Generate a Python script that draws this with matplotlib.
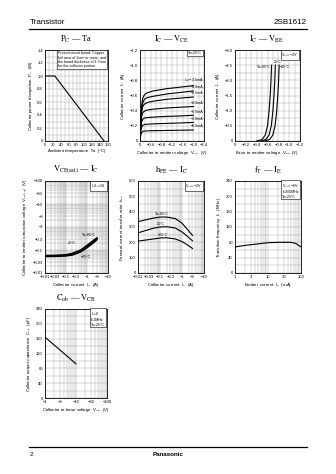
import matplotlib
matplotlib.use("Agg")
import matplotlib.pyplot as plt
from matplotlib.ticker import FixedLocator, NullFormatter, MultipleLocator, LogLocator
from matplotlib.lines import Line2D

plt.rcParams['font.family'] = ['Liberation Sans', 'DejaVu Sans']
plt.rcParams['mathtext.fontset'] = 'stix'

# ---------------- data ----------------
# PC - Ta
ta = [0, 25, 150]
pc = [1.0, 1.0, 0.0]

# IC - VCE (Ta = 25 degC)
vce = [0, -0.03, -0.06, -0.1, -0.15, -0.2, -0.3, -0.5, -1.0, -1.5, -2.0]
ib_labels = ["I$_B$=−3.5mA", "−3.0mA", "−2.5mA", "−2.0mA", "−1.5mA", "−1.0mA", "−0.5mA"]
ic_ib35 = [0, -0.28, -0.46, -0.56, -0.60, -0.62, -0.64, -0.66, -0.69, -0.71, -0.73]
ic_ib30 = [0, -0.26, -0.42, -0.50, -0.54, -0.56, -0.575, -0.59, -0.62, -0.64, -0.66]
ic_ib25 = [0, -0.24, -0.38, -0.45, -0.48, -0.495, -0.51, -0.525, -0.55, -0.565, -0.58]
ic_ib20 = [0, -0.21, -0.32, -0.37, -0.39, -0.40, -0.41, -0.42, -0.435, -0.445, -0.455]
ic_ib15 = [0, -0.17, -0.25, -0.285, -0.30, -0.305, -0.31, -0.315, -0.325, -0.33, -0.34]
ic_ib10 = [0, -0.13, -0.18, -0.205, -0.215, -0.22, -0.222, -0.226, -0.232, -0.238, -0.245]
ic_ib05 = [0, -0.08, -0.11, -0.125, -0.13, -0.132, -0.134, -0.136, -0.139, -0.142, -0.145]

# IC - VBE (VCE = -2 V)
ic_vbe = [0, -0.05, -0.2, -0.5, -1.0, -1.5, -2.0, -2.5]
vbe_85 = [-0.40, -0.50, -0.56, -0.60, -0.63, -0.65, -0.665, -0.675]
vbe_25 = [-0.48, -0.57, -0.63, -0.67, -0.70, -0.72, -0.735, -0.745]
vbe_m25 = [-0.55, -0.64, -0.70, -0.74, -0.77, -0.79, -0.805, -0.815]

# VCE(sat) - IC (IC/IB = 10)
ic_sat = [-0.01, -0.02, -0.05, -0.1, -0.2, -0.5, -1, -2, -3]
vsat_85 = [-0.058, -0.058, -0.06, -0.063, -0.072, -0.1, -0.16, -0.26, -0.34]
vsat_25 = [-0.055, -0.055, -0.056, -0.058, -0.065, -0.09, -0.14, -0.23, -0.31]
vsat_m25 = [-0.052, -0.052, -0.053, -0.055, -0.06, -0.082, -0.125, -0.2, -0.28]

# hFE - IC (VCE = -2 V)
ic_hfe = [-0.01, -0.02, -0.05, -0.1, -0.2, -0.5, -1, -2, -3]
hfe_85 = [335, 345, 358, 365, 365, 355, 325, 275, 245]
hfe_25 = [262, 275, 292, 300, 302, 293, 268, 232, 210]
hfe_m25 = [208, 214, 222, 228, 230, 222, 205, 178, 160]

# fT - IE
ie = [1, 2, 5, 10, 20, 50, 70, 100]
ft = [68, 72, 76, 79, 80, 80, 77, 68]

# Cob - VCB
vcb = [-1, -3, -10]
cob = [164, 130, 92]

# ---------------- figure ----------------
W, H = 336, 474
fig = plt.figure(figsize=(W / 100, H / 100), dpi=100)

TICK = 3.0
LAB = 3.2
GRID = dict(color='#9a9a9a', lw=0.3)
LW = 0.8


def axes_px(x0, y0, x1, y1):
    return fig.add_axes([x0 / W, 1 - y1 / H, (x1 - x0) / W, (y1 - y0) / H])


def style(ax):
    for s in ax.spines.values():
        s.set_linewidth(0.6)
    ax.tick_params(which='both', direction='in', length=0, labelsize=TICK, pad=1.5)
    ax.grid(True, which='both', **GRID)
    ax.set_axisbelow(True)


def log_minor(axis):
    axis.set_minor_locator(LogLocator(subs=range(2, 10), numticks=20))
    axis.set_minor_formatter(NullFormatter())


def title(cx, cy, s):
    fig.text(cx / W, 1 - cy / H, s, ha='center', va='center', fontsize=6,
             family='Liberation Serif')


def boxtext(ax, x, y, s, ha='right', va='top'):
    ax.text(x, y, s, transform=ax.transAxes, ha=ha, va=va, fontsize=2.6,
            linespacing=1.1, multialignment='left',
            bbox=dict(boxstyle='square,pad=0.25', fc='white', ec='black', lw=0.4))


def note(ax, x, y, s, ha='left'):
    ax.text(x, y, s, ha=ha, va='center', fontsize=2.6)


def xlabel(ax, s):
    ax.set_xlabel(s, fontsize=LAB, labelpad=1.5)


def ylabel(ax, s):
    ax.set_ylabel(s, fontsize=LAB, labelpad=2)


# ---- PC - Ta ----
ax = axes_px(45, 50, 108, 141)
style(ax)
ax.set_xlim(0, 160)
ax.set_ylim(0, 1.4)
ax.xaxis.set_major_locator(MultipleLocator(20))
ax.xaxis.set_minor_locator(MultipleLocator(10))
ax.yaxis.set_major_locator(MultipleLocator(0.2))
ax.yaxis.set_minor_locator(MultipleLocator(0.1))
ax.set_yticklabels(['0' if abs(v) < 1e-9 else f'{v:.1f}' for v in ax.get_yticks()])
ax.plot(ta, pc, color='black', lw=LW)
boxtext(ax, 0.97, 0.985, "Printed circuit board: Copper\nfoil area of 1cm² or more, and\n"
        "the board thickness of 1.7mm\nfor the collector portion.")
xlabel(ax, "Ambient temperature  Ta  (°C)")
ylabel(ax, "Collector power dissipation  P$_C$  (W)")
title(76, 39, r"$\mathrm{P_C}$ — Ta")

# ---- IC - VCE ----
ax = axes_px(140, 50, 204, 141)
style(ax)
ax.set_xlim(0, -2.4)
ax.set_ylim(0, -1.2)
ax.xaxis.set_major_locator(FixedLocator([0, -0.4, -0.8, -1.2, -1.6, -2.0, -2.4]))
ax.xaxis.set_minor_locator(MultipleLocator(0.2))
ax.yaxis.set_major_locator(FixedLocator([0, -0.2, -0.4, -0.6, -0.8, -1.0, -1.2]))
ax.yaxis.set_minor_locator(MultipleLocator(0.1))
ax.set_xticklabels(['0', '−0.4', '−0.8', '−1.2', '−1.6', '−2.0', '−2.4'])
ax.set_yticklabels(['0', '−0.2', '−0.4', '−0.6', '−0.8', '−1.0', '−1.2'])
curves = [ic_ib35, ic_ib30, ic_ib25, ic_ib20, ic_ib15, ic_ib10, ic_ib05]
for lab, ic in zip(ib_labels, curves):
    ax.plot(vce, ic, color='black', lw=LW)
    ax.text(-2.38, ic[-1] - 0.02, lab, ha='right', va='bottom', fontsize=2.6)
boxtext(ax, 0.97, 0.985, "Ta=25°C")
xlabel(ax, "Collector to emitter voltage  V$_{CE}$  (V)")
ylabel(ax, "Collector current  I$_C$  (A)")
title(172, 39, r"$\mathrm{I_C}$ — $\mathrm{V_{CE}}$")

# ---- IC - VBE ----
ax = axes_px(235, 50, 300, 141)
style(ax)
ax.set_xlim(0, -1.2)
ax.set_ylim(0, -3.0)
ax.xaxis.set_major_locator(FixedLocator([0, -0.2, -0.4, -0.6, -0.8, -1.0, -1.2]))
ax.xaxis.set_minor_locator(MultipleLocator(0.1))
ax.yaxis.set_major_locator(FixedLocator([0, -0.5, -1.0, -1.5, -2.0, -2.5, -3.0]))
ax.yaxis.set_minor_locator(MultipleLocator(0.25))
ax.set_xticklabels(['0', '−0.2', '−0.4', '−0.6', '−0.8', '−1.0', '−1.2'])
ax.set_yticklabels(['0', '−0.5', '−1.0', '−1.5', '−2.0', '−2.5', '−3.0'])
ax.plot(vbe_85, ic_vbe, color='black', lw=LW)
ax.plot(vbe_25, ic_vbe, color='black', lw=LW)
ax.plot(vbe_m25, ic_vbe, color='black', lw=LW)
note(ax, vbe_85[-1] + 0.01, -2.45, "Ta=85°C", ha='right')
note(ax, vbe_25[-1] + 0.03, -2.62, "25°C", ha='left')
note(ax, vbe_m25[-1] - 0.01, -2.45, "−25°C", ha='left')
boxtext(ax, 0.97, 0.985, "V$_{CE}$=−2V")
xlabel(ax, "Base to emitter voltage  V$_{BE}$  (V)")
ylabel(ax, "Collector current  I$_C$  (A)")
title(267, 39, r"$\mathrm{I_C}$ — $\mathrm{V_{BE}}$")

# ---- VCE(sat) - IC (log axes drawn on magnitudes, labelled negative) ----
xt = [0.01, 0.03, 0.1, 0.3, 1, 3, 10]
xt_lab = ['−0.01', '−0.03', '−0.1', '−0.3', '−1', '−3', '−10']
ax = axes_px(45, 181, 108, 273)
style(ax)
ax.set_xscale('log')
ax.set_yscale('log')
ax.set_xlim(0.01, 10)
ax.set_ylim(0.01, 100)
yt = [0.01, 0.03, 0.1, 0.3, 1, 3, 10, 30, 100]
ax.xaxis.set_major_locator(FixedLocator(xt))
log_minor(ax.xaxis)
ax.set_xticklabels(xt_lab)
ax.yaxis.set_major_locator(FixedLocator(yt))
log_minor(ax.yaxis)
ax.set_yticklabels(['−0.01', '−0.03', '−0.1', '−0.3', '−1', '−3', '−10', '−30', '−100'])
for v in (vsat_85, vsat_25, vsat_m25):
    ax.plot([-c for c in ic_sat], [-x for x in v], color='black', lw=1.0)
note(ax, 0.6, 0.45, "Ta=85°C")
note(ax, 0.12, 0.2, "25°C")
note(ax, 0.5, 0.05, "−25°C")
boxtext(ax, 0.97, 0.985, "I$_C$/I$_B$=10")
xlabel(ax, "Collector current  I$_C$  (A)")
ylabel(ax, "Collector to emitter saturation voltage  V$_{CE(sat)}$  (V)")
title(76, 170, r"$\mathrm{V_{CE(sat)}}$ — $\mathrm{I_C}$")

# ---- hFE - IC ----
ax = axes_px(138, 181, 204, 273)
style(ax)
ax.set_xscale('log')
ax.set_xlim(0.01, 10)
ax.set_ylim(0, 600)
ax.xaxis.set_major_locator(FixedLocator(xt))
log_minor(ax.xaxis)
ax.set_xticklabels(xt_lab)
ax.yaxis.set_major_locator(MultipleLocator(100))
ax.yaxis.set_minor_locator(MultipleLocator(50))
absic = [-c for c in ic_hfe]
ax.plot(absic, hfe_85, color='black', lw=LW)
ax.plot(absic, hfe_25, color='black', lw=LW)
ax.plot(absic, hfe_m25, color='black', lw=LW)
note(ax, 0.06, 385, "Ta=85°C")
note(ax, 0.07, 318, "25°C")
note(ax, 0.08, 245, "−25°C")
boxtext(ax, 0.97, 0.985, "V$_{CE}$=−2V")
xlabel(ax, "Collector current  I$_C$  (A)")
ylabel(ax, "Forward current transfer ratio  h$_{FE}$")
title(171, 170, r"$\mathrm{h_{FE}}$ — $\mathrm{I_C}$")

# ---- fT - IE ----
ax = axes_px(235, 181, 301, 273)
style(ax)
ax.set_xscale('log')
ax.set_xlim(1, 100)
ax.set_ylim(0, 240)
ax.xaxis.set_major_locator(FixedLocator([1, 3, 10, 30, 100]))
log_minor(ax.xaxis)
ax.set_xticklabels(['1', '3', '10', '30', '100'])
ax.yaxis.set_major_locator(MultipleLocator(40))
ax.yaxis.set_minor_locator(MultipleLocator(20))
ax.plot(ie, ft, color='black', lw=LW)
boxtext(ax, 0.97, 0.985, "V$_{CB}$=−6V\nf=200MHz\nTa=25°C")
xlabel(ax, "Emitter current  I$_E$  (mA)")
ylabel(ax, "Transition frequency  f$_T$  (MHz)")
title(268, 170, r"$\mathrm{f_T}$ — $\mathrm{I_E}$")

# ---- Cob - VCB ----
ax = axes_px(45, 309, 107, 398)
style(ax)
ax.set_xscale('log')
ax.set_xlim(1, 100)
ax.set_ylim(0, 240)
ax.xaxis.set_major_locator(FixedLocator([1, 3, 10, 30, 100]))
log_minor(ax.xaxis)
ax.set_xticklabels(['−1', '−3', '−10', '−30', '−100'])
ax.yaxis.set_major_locator(MultipleLocator(40))
ax.yaxis.set_minor_locator(MultipleLocator(20))
ax.plot([-v for v in vcb], cob, color='black', lw=LW)
boxtext(ax, 0.97, 0.985, "I$_E$=0\nf=1MHz\nTa=25°C")
xlabel(ax, "Collector to base voltage  V$_{CB}$  (V)")
ylabel(ax, "Collector output capacitance  C$_{ob}$  (pF)")
title(76, 298, r"$\mathrm{C_{ob}}$ — $\mathrm{V_{CB}}$")

# ---------------- page header / footer ----------------
fig.text(30 / W, 1 - 23 / H, "Transistor", ha='left', va='center', fontsize=5.8)
fig.text(307 / W, 1 - 23 / H, "2SB1612", ha='right', va='center', fontsize=5.8)
fig.add_artist(Line2D([29 / W, 307 / W], [1 - 28.5 / H, 1 - 28.5 / H], color='black', lw=0.9))
fig.add_artist(Line2D([29 / W, 307 / W], [1 - 447 / H, 1 - 447 / H], color='black', lw=0.9))
fig.text(30 / W, 1 - 455 / H, "2", ha='left', va='center', fontsize=4.5)
fig.text(168 / W, 1 - 455 / H, "Panasonic", ha='center', va='center', fontsize=4.5, weight='bold')

fig.savefig("out.png", dpi=100)
